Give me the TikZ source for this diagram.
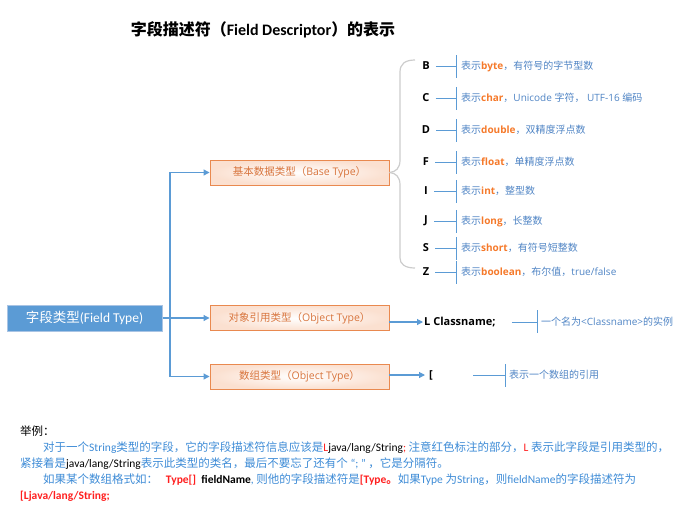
\documentclass[tikz,border=0pt]{standalone}
\usepackage{fontspec}
\setmainfont{Carlito}
\newfontfamily\cjkfont{Noto Sans CJK SC}
\newfontfamily\uifont{Open Sans}
\usetikzlibrary{arrows.meta}

% automatic switch to the CJK font for CJK characters
\XeTeXinterchartokenstate=1
\chardef\cjkcls=7
\makeatletter
\count@="3000
\loop\XeTeXcharclass\count@=\cjkcls \ifnum\count@<"9FFF \advance\count@\@ne\repeat
\count@="FF00
\loop\XeTeXcharclass\count@=\cjkcls \ifnum\count@<"FFEF \advance\count@\@ne\repeat
\makeatother
\XeTeXinterchartoks 0 \cjkcls={\begingroup\cjkfont}
\XeTeXinterchartoks 1 \cjkcls={\begingroup\cjkfont}
\XeTeXinterchartoks 2 \cjkcls={\begingroup\cjkfont}
\XeTeXinterchartoks 3 \cjkcls={\begingroup\cjkfont}
\XeTeXinterchartoks 4095 \cjkcls={\begingroup\cjkfont}
\XeTeXinterchartoks \cjkcls 0={\endgroup}
\XeTeXinterchartoks \cjkcls 1={\endgroup}
\XeTeXinterchartoks \cjkcls 2={\endgroup}
\XeTeXinterchartoks \cjkcls 3={\endgroup}
\XeTeXinterchartoks \cjkcls 4095={\endgroup}

\definecolor{rootblue}{HTML}{5B9BD5}
\definecolor{rootedge}{HTML}{A9C4E4}
\definecolor{lineblue}{HTML}{5B9BD5}
\definecolor{descblue}{HTML}{4F84C4}
\definecolor{kworange}{HTML}{F5792A}
\definecolor{boxorange}{HTML}{E9894F}
\definecolor{boxtext}{HTML}{D8743C}
\definecolor{boxfill}{HTML}{FBE0D0}
\definecolor{bracegray}{HTML}{CCCCCC}
\definecolor{parablue}{HTML}{3D8BD6}
\definecolor{parared}{HTML}{FF1F1F}

\newcommand\kw[1]{{\bfseries\color{kworange}#1}}

\begin{document}
\begin{tikzpicture}[x=1pt,y=-1pt,
  conn/.style={draw=lineblue, line width=1.1pt, -{Triangle[length=6pt,width=6pt]}},
  lnk/.style={draw=lineblue, line width=0.9pt},
  brace/.style={draw=bracegray, line width=1.2pt},
  rootbox/.style={draw=rootedge, line width=1pt, fill=rootblue, minimum width=155pt, minimum height=26pt, text=white, inner sep=0pt, font=\fontsize{13.5}{15}\selectfont},
  typebox/.style={draw=boxorange, line width=0.9pt, inner color=white, outer color=boxfill, minimum width=179pt, minimum height=25pt, inner sep=0pt, text=boxtext, font=\uifont\fontsize{10.5}{12}\selectfont},
  letter/.style={inner sep=0pt, font=\uifont\bfseries\fontsize{11}{13}\selectfont},
  desc/.style={anchor=west, inner sep=0pt, text=descblue, font=\uifont\fontsize{10}{12}\selectfont},
  valuetxt/.style={anchor=west, inner xsep=4pt, inner ysep=1pt, font=\uifont\bfseries\fontsize{11}{13}\selectfont},
  para/.style={anchor=base west, inner sep=0pt, text=parablue, font=\fontsize{11.5}{14}\selectfont}
]
\useasboundingbox (0,0) rectangle (678,507);

% title
\node[font=\bfseries\fontsize{16}{18}\selectfont] (title) at (263,30) {字段描述符（Field Descriptor）的表示};

% boxes
\node[rootbox] (root) at (84.5,318) {字段类型(Field Type)};
\node[typebox] (base) at (299.5,172.5) {基本数据类型（Base Type）};
\node[typebox] (obj) at (299.5,318) {对象引用类型（Object Type）};
\node[typebox] (arr) at (299.5,376.5) {数组类型（Object Type）};

\coordinate (j) at (170,318);
\draw[conn] (root.east) -- (obj.west);
\draw[conn] (j) |- (base.west);
\draw[conn] (j) |- (arr.west);

% brace
\draw[brace] (base.east) .. controls (396,172) and (400,168) .. (400,160) -- (400,72) .. controls (400,64) and (405,60) .. (415,60);
\draw[brace] (base.east) .. controls (396,173) and (400,177) .. (400,185) -- (400,258) .. controls (400,264) and (405,268) .. (415,268);

% base types
\foreach \L/\y/\k/\rest in {
  B/66/byte/{，有符号的字节型数},
  C/98/char/{，Unicode 字符， UTF-16 编码},
  D/130/double/{，双精度浮点数},
  F/162/float/{，单精度浮点数},
  I/191/int/{，整型数},
  J/221/long/{，长整数},
  S/248/short/{，有符号短整数},
  Z/272/boolean/{，布尔值，true/false}}{
  \node[letter] (L\L) at (426,\y) {\L};
  \coordinate (T\L) at (456,\y);
  \draw[lnk, shorten <=6pt] (L\L.east) -- (T\L);
  \draw[lnk] ([yshift=11pt]T\L) -- ([yshift=-12pt]T\L);
  \node[desc] (D\L) at (461,\y) {表示\kw{\k}\rest};
}

% object reference
\node[valuetxt, inner xsep=1pt] (cls) at (423,322) {L Classname;};
\draw[conn] (obj.east |- cls.west) -- (cls.west);
\coordinate (cn) at (537,322);
\draw[lnk, shorten <=15pt] (cls.east) -- (cn);
\draw[lnk] ([yshift=12pt]cn) -- ([yshift=-11pt]cn);
\node[desc] (clsnote) at (541,322) {一个名为<Classname>的实例};

% array
\node[valuetxt] (brk) at (425,375) {[};
\draw[conn] (arr.east |- brk.west) -- (brk.west);
\coordinate (an) at (505,375);
\draw[lnk, shorten <=36pt] (brk.east) -- (an);
\draw[lnk] ([yshift=11pt]an) -- ([yshift=-12pt]an);
\node[desc] (arrnote) at (509,375) {表示一个数组的引用};

% example paragraph
\node[para, text=black] (p0) at (20,435) {举例：};
\node[para] (p1) at (43,451) {对于一个String类型的字段，它的字段描述符信息应该是{\color{parared}L}{\color{black}java/lang/String}{\color{parared};} 注意红色标注的部分，{\color{parared}L} 表示此字段是引用类型的，};
\node[para] (p2) at (20,467) {紧接着是{\color{black}java/lang/String}表示此类型的类名，最后不要忘了还有个 “; ” ，它是分隔符。};
\node[para] (p3) at (43,483) {如果某个数组格式如：\ \ \ {\color{parared}\bfseries Type[]}\ \ {\color{black}\bfseries fieldName}, 则他的字段描述符是{\color{parared}\bfseries [Type。}如果Type 为String，则fieldName的字段描述符为};
\node[para] (p4) at (20,499) {{\color{parared}\bfseries [Ljava/lang/String;}};
\end{tikzpicture}
\end{document}
